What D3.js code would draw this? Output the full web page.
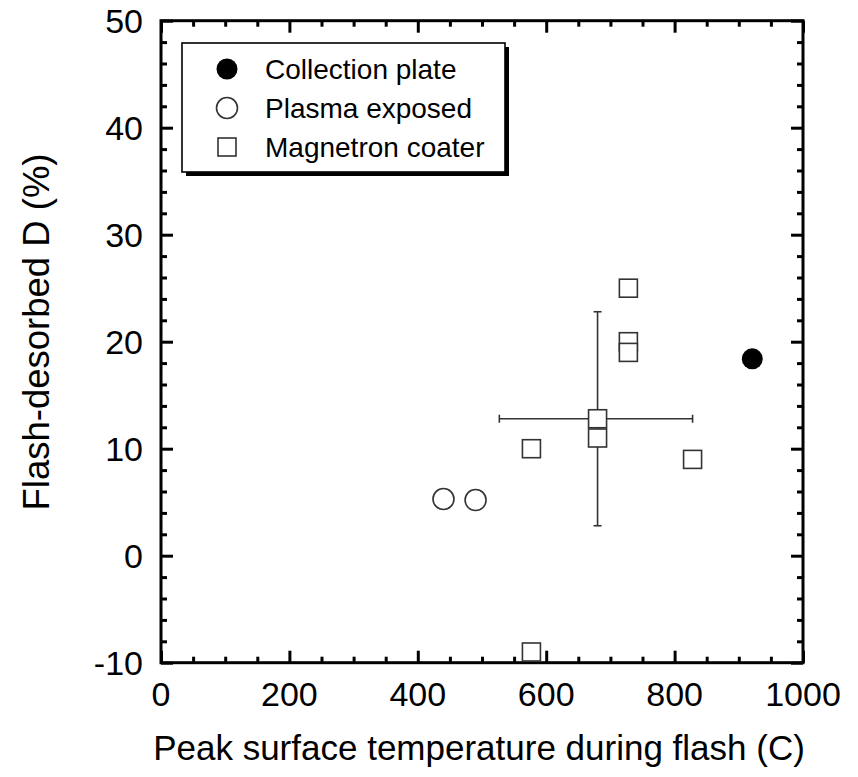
<!DOCTYPE html>
<html>
<head>
<meta charset="utf-8">
<script src="https://cdn.jsdelivr.net/npm/d3@7"></script>
<style>
  body { margin: 0; background: #fff; }
  text { font-family: "Liberation Sans", Arial, sans-serif; fill: #000; }
</style>
</head>
<body>
<div id="chart"></div>
<script>
// data
const collectionX = [921];
const collectionY = [18.4];
const plasmaX = [440, 490];
const plasmaY = [5.3, 5.2];
const magnetronX = [577, 577, 680, 680, 728, 728, 728, 828];
const magnetronY = [-9, 10, 12.8, 11, 25, 20, 19, 9];
// error bar on the mean point
const errX = [680], errY = [12.8];
const errXLow = [527], errXHigh = [828];
const errYLow = [2.8], errYHigh = [22.8];

const xTicks = [0, 200, 400, 600, 800, 1000];
const yTicks = [-10, 0, 10, 20, 30, 40, 50];
const legendLabels = ["Collection plate", "Plasma exposed", "Magnetron coater"];

const W = 858, H = 777;
const plot = {left: 161, right: 803, top: 20.7, bottom: 662.7};

const svg = d3.select("#chart").append("svg")
    .attr("width", W)
    .attr("height", H);

const x = d3.scaleLinear().domain([0, 1000]).range([plot.left, plot.right]);
const y = d3.scaleLinear().domain([-10, 50]).range([plot.bottom, plot.top]);

const minorX = d3.range(0, 1001, 50).filter(d => d % 200 !== 0);
const minorY = d3.range(-10, 51, 2).filter(d => d % 10 !== 0);

// ticks on all four sides, pointing inward
function ticks(axisFn, scale, vals, len, g) {
  g.call(axisFn(scale).tickValues(vals).tickSize(len).tickFormat(""))
   .call(s => s.select(".domain").remove())
   .selectAll("line").attr("stroke", "#000").attr("stroke-width", 3);
}
ticks(d3.axisTop, x, xTicks, 12, svg.append("g").attr("transform", `translate(0,${plot.bottom})`));
ticks(d3.axisTop, x, minorX, 6, svg.append("g").attr("transform", `translate(0,${plot.bottom})`));
ticks(d3.axisBottom, x, xTicks, 12, svg.append("g").attr("transform", `translate(0,${plot.top})`));
ticks(d3.axisBottom, x, minorX, 6, svg.append("g").attr("transform", `translate(0,${plot.top})`));
ticks(d3.axisRight, y, yTicks, 12, svg.append("g").attr("transform", `translate(${plot.left},0)`));
ticks(d3.axisRight, y, minorY, 6, svg.append("g").attr("transform", `translate(${plot.left},0)`));
ticks(d3.axisLeft, y, yTicks, 12, svg.append("g").attr("transform", `translate(${plot.right},0)`));
ticks(d3.axisLeft, y, minorY, 6, svg.append("g").attr("transform", `translate(${plot.right},0)`));

// frame
svg.append("rect")
    .attr("x", plot.left).attr("y", plot.top)
    .attr("width", plot.right - plot.left).attr("height", plot.bottom - plot.top)
    .attr("fill", "none").attr("stroke", "#000").attr("stroke-width", 3);

// tick labels
svg.append("g").selectAll("text").data(xTicks).join("text")
    .attr("x", d => x(d)).attr("y", plot.bottom + 43)
    .attr("text-anchor", "middle").attr("font-size", 34)
    .text(d => d);
svg.append("g").selectAll("text").data(yTicks).join("text")
    .attr("x", plot.left - 18).attr("y", d => y(d) + 12.3)
    .attr("text-anchor", "end").attr("font-size", 34)
    .text(d => d);

// axis titles
svg.append("text")
    .attr("x", (plot.left + plot.right) / 2 - 3).attr("y", 760)
    .attr("text-anchor", "middle").attr("font-size", 35)
    .text("Peak surface temperature during flash (C)");
svg.append("text")
    .attr("transform", "translate(49,332) rotate(-90)")
    .attr("text-anchor", "middle").attr("font-size", 36.5)
    .text("Flash-desorbed D (%)");

// error bars
const eb = svg.append("g").attr("stroke", "#333").attr("stroke-width", 1.6);
errX.forEach((ex, i) => {
  eb.append("line").attr("x1", x(errXLow[i])).attr("x2", x(errXHigh[i]))
      .attr("y1", y(errY[i])).attr("y2", y(errY[i]));
  eb.append("line").attr("x1", x(ex)).attr("x2", x(ex))
      .attr("y1", y(errYLow[i])).attr("y2", y(errYHigh[i]));
  [errXLow[i], errXHigh[i]].forEach(v => eb.append("line")
      .attr("x1", x(v)).attr("x2", x(v))
      .attr("y1", y(errY[i]) - 4).attr("y2", y(errY[i]) + 4));
  [errYLow[i], errYHigh[i]].forEach(v => eb.append("line")
      .attr("x1", x(ex) - 4).attr("x2", x(ex) + 4)
      .attr("y1", y(v)).attr("y2", y(v)));
});

// points
const sq = 18, r = 10.5;
svg.append("g").selectAll("rect").data(magnetronX).join("rect")
    .attr("x", (d) => x(d) - sq / 2)
    .attr("y", (d, i) => y(magnetronY[i]) - sq / 2)
    .attr("width", sq).attr("height", sq)
    .attr("fill", "#fff").attr("stroke", "#333").attr("stroke-width", 1.6);
svg.append("g").selectAll("circle").data(plasmaX).join("circle")
    .attr("cx", d => x(d)).attr("cy", (d, i) => y(plasmaY[i])).attr("r", r)
    .attr("fill", "#fff").attr("stroke", "#333").attr("stroke-width", 1.6);
svg.append("g").selectAll("circle").data(collectionX).join("circle")
    .attr("cx", d => x(d)).attr("cy", (d, i) => y(collectionY[i])).attr("r", r)
    .attr("fill", "#000");

// legend
const lg = svg.append("g");
lg.append("rect").attr("x", 186).attr("y", 47).attr("width", 323).attr("height", 129).attr("fill", "#000");
lg.append("rect").attr("x", 182).attr("y", 43).attr("width", 323).attr("height", 129)
    .attr("fill", "#fff").attr("stroke", "#000").attr("stroke-width", 1.6);
const rowY = [69, 108, 147];
lg.append("circle").attr("cx", 227).attr("cy", rowY[0]).attr("r", r).attr("fill", "#000");
lg.append("circle").attr("cx", 227).attr("cy", rowY[1]).attr("r", r)
    .attr("fill", "#fff").attr("stroke", "#333").attr("stroke-width", 1.6);
lg.append("rect").attr("x", 227 - sq / 2).attr("y", rowY[2] - sq / 2).attr("width", sq).attr("height", sq)
    .attr("fill", "#fff").attr("stroke", "#333").attr("stroke-width", 1.6);
lg.selectAll("text.lab").data(legendLabels).join("text")
    .attr("class", "lab")
    .attr("x", 265).attr("y", (d, i) => rowY[i] + 10)
    .attr("font-size", 28)
    .text(d => d);
</script>
</body>
</html>
